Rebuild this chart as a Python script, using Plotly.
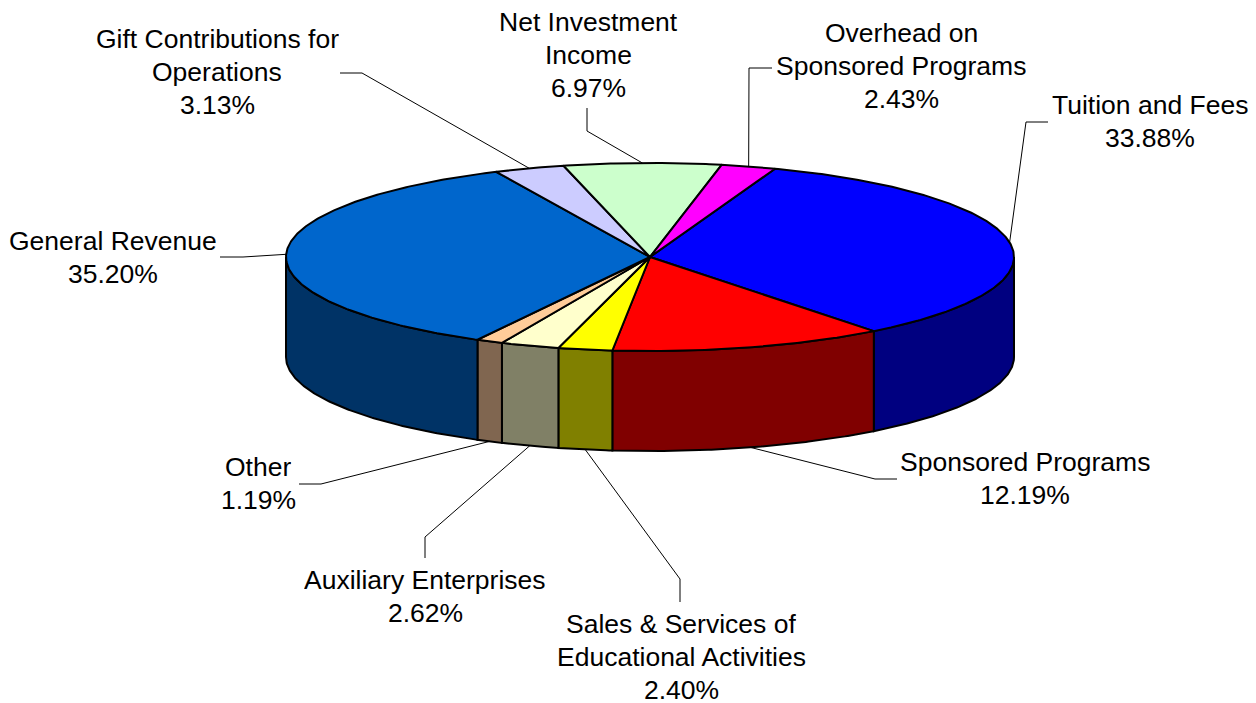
import math
import plotly.graph_objects as go

# ---- data ----
categories = ["Tuition and Fees", "Sponsored Programs", "Sales & Services of<br>Educational Activities",
              "Auxiliary Enterprises", "Other", "General Revenue", "Gift Contributions for<br>Operations",
              "Net Investment<br>Income", "Overhead on<br>Sponsored Programs"]
values = [33.88, 12.19, 2.40, 2.62, 1.19, 35.20, 3.13, 6.97, 2.43]
top_colors = ["#0000FF", "#FF0000", "#FFFF00", "#FFFFCC", "#FFCC99", "#0066CC", "#CCCCFF", "#CCFFCC", "#FF00FF"]
side_colors = ["#000080", "#800000", "#808000", "#808066", "#806650", "#003366", "#666680", "#668066", "#800080"]

# ---- geometry of the tilted pie (window pixels) ----
CX, CY, RX, RY, DEPTH = 650, 257, 364, 94, 100
START_DEG = 20.1
WIN_W, WIN_H = 1256, 703
PAGE_MARGIN = 8  # the page body margin shifts the plot by this much
LINE_STEP = 33

label_centers = [(1150, 121.5), (1025, 478.5), (681, 657), (425, 596.5), (258, 483.5),
                 (113, 257.5), (217, 72), (588, 55), (901, 66)]
leader_elbows = [[(1026, 122), (1048, 122)], [(875, 479), (897, 479)], [(680, 579), (680, 602)],
                 [(425, 537), (425, 558)], [(321, 484), (299, 484)], [(243, 257), (220, 257)],
                 [(362, 73), (340, 73)], [(587, 131), (587, 108)], [(749, 68), (772, 68)]]


def rim(deg, drop=0.0):
    a = math.radians(deg)
    return CX + RX * math.sin(a), CY - RY * math.cos(a) + drop


def arc(a0, a1, drop=0.0, step=0.5):
    n = max(2, int(abs(a1 - a0) / step) + 1)
    return [rim(a0 + (a1 - a0) * i / (n - 1), drop) for i in range(n)]


total = sum(values)
bounds = [START_DEG]
for v in values:
    bounds.append(bounds[-1] + v / total * 360)

fig = go.Figure()


def poly(pts, fill):
    fig.add_trace(go.Scatter(x=[p[0] for p in pts] + [pts[0][0]], y=[p[1] for p in pts] + [pts[0][1]],
                             mode="lines", fill="toself", fillcolor=fill,
                             line=dict(color="#000000", width=2), hoverinfo="skip", showlegend=False))


# outer walls, only the part of each slice that faces the viewer (90..270 deg)
for i, v in enumerate(values):
    a0, a1 = max(bounds[i], 90), min(bounds[i + 1], 270)
    if a1 > a0:
        poly(arc(a0, a1) + arc(a1, a0, DEPTH), side_colors[i])

# top faces
for i, v in enumerate(values):
    poly([(CX, CY)] + arc(bounds[i], bounds[i + 1]), top_colors[i])

# leader lines
for i, v in enumerate(values):
    mid = (bounds[i] + bounds[i + 1]) / 2
    front = 90 < (mid % 360) < 270
    pts = [rim(mid, DEPTH if front else 0)] + leader_elbows[i]
    fig.add_trace(go.Scatter(x=[p[0] for p in pts], y=[p[1] for p in pts], mode="lines",
                             line=dict(color="#000000", width=1), hoverinfo="skip", showlegend=False))

# labels, one annotation per line so that the line spacing matches the reference
for i, v in enumerate(values):
    lines = categories[i].split("<br>") + [f"{v:.2f}%"]
    for k, line in enumerate(lines):
        fig.add_annotation(x=label_centers[i][0], y=label_centers[i][1] + (k - (len(lines) - 1) / 2) * LINE_STEP,
                           xref="x", yref="y", text=line, showarrow=False, align="center",
                           xanchor="center", yanchor="middle", height=28, valign="middle",
                           font=dict(family="Liberation Sans, Arial, sans-serif", size=26.5, color="#000000"))

fig.update_layout(width=WIN_W - PAGE_MARGIN, height=WIN_H - PAGE_MARGIN, margin=dict(l=0, r=0, t=0, b=0),
                  paper_bgcolor="#FFFFFF", plot_bgcolor="#FFFFFF", showlegend=False,
                  xaxis=dict(range=[PAGE_MARGIN, WIN_W], visible=False, fixedrange=True),
                  yaxis=dict(range=[WIN_H, PAGE_MARGIN], visible=False, fixedrange=True))
fig.write_html("out.html", config={"displayModeBar": False})
